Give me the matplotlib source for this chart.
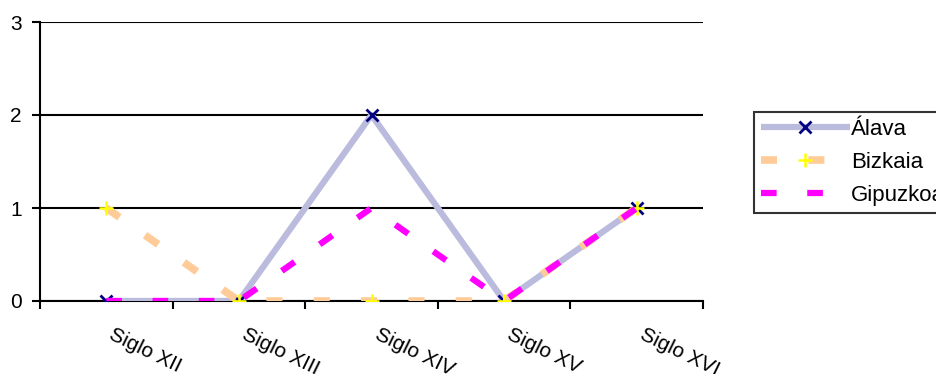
import numpy as np
import matplotlib.pyplot as plt
import matplotlib.transforms as mtransforms

plt.rcParams['font.family'] = ['Liberation Sans', 'DejaVu Sans']

# datos
siglos = ['Siglo XII', 'Siglo XIII', 'Siglo XIV', 'Siglo XV', 'Siglo XVI']
alava = [0, 0, 2, 0, 1]
bizkaia = [1, 0, 0, 0, 1]
gipuzkoa = [0, 0, 1, 0, 1]

x = np.arange(len(siglos))

fig = plt.figure(figsize=(9.36, 3.74), dpi=100)
ax = fig.add_axes([40 / 936, 73 / 374, 663 / 936, 279 / 374])

ax.plot(x, alava, color='#BBBBDD', lw=4.5, marker='x', ms=9, mew=2,
        mec='#000080', label='Álava', zorder=3, solid_capstyle='butt')
l2, = ax.plot(x, bizkaia, color='#FFCC99', lw=5.5, marker='+', ms=10, mew=1.8,
              mec='#FFFF00', label='Bizkaia', zorder=4)
l2.set_dashes([2.1, 4.1])
l3, = ax.plot(x, gipuzkoa, color='#FF00FF', lw=4.5, label='Gipuzkoa', zorder=5)
l3.set_dashes([2.5, 4.9])
l2.set_dash_capstyle('butt')
l3.set_dash_capstyle('butt')

ax.set_xlim(-0.5, 4.5)
ax.set_ylim(0, 3)
ax.set_yticks([0, 1, 2, 3])
ax.set_xticks(np.arange(-0.5, 5, 1))
ax.set_xticklabels([])
ax.set_xticks(x, minor=True)
ax.set_xticklabels(siglos, minor=True, rotation=-26, ha='left', va='top',
                   rotation_mode='anchor', fontsize=15)
ax.tick_params(axis='x', which='minor', length=0, pad=17.5)
ax.tick_params(axis='x', which='major', length=6, width=1.5, direction='out')
ax.tick_params(axis='y', length=6, width=1.5, labelsize=15, pad=7)

# desplazar etiquetas un poco a la derecha
off = mtransforms.ScaledTranslation(6 / 72, 0, fig.dpi_scale_trans)
for lab in ax.get_xticklabels(minor=True):
    lab.set_transform(lab.get_transform() + off)

ax.grid(axis='y', color='black', lw=1.5)
ax.set_axisbelow(True)
for s in ['top', 'right']:
    ax.spines[s].set_visible(False)
for s in ['left', 'bottom']:
    ax.spines[s].set_linewidth(1.5)
ax.spines['bottom'].set_zorder(2)

leg = ax.legend(loc='upper left', bbox_to_anchor=(754 / 936, 262 / 374),
                bbox_transform=fig.transFigure, fontsize=16, frameon=True,
                fancybox=False, edgecolor='black', handlelength=4.0,
                labelspacing=0.55, borderpad=0.3, handletextpad=0.05,
                borderaxespad=0)
leg.get_frame().set_linewidth(1.5)

plt.savefig('out.png', dpi=100)
